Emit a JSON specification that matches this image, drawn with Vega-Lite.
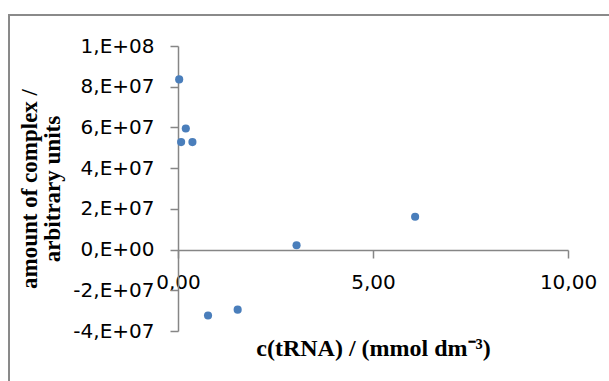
{
  "$schema": "https://vega.github.io/schema/vega-lite/v6.json",
  "width": 390,
  "height": 285,
  "autosize": {"type": "none"},
  "padding": {"left": 178, "top": 46, "right": 41, "bottom": 50},
  "background": "white",
  "config": {"view": {"stroke": null}, "font": "DejaVu Sans"},
  "data": {
    "values": [
      {"c": 0.03, "amount": 83600000},
      {"c": 0.2, "amount": 59500000},
      {"c": 0.08, "amount": 52800000},
      {"c": 0.37, "amount": 52800000},
      {"c": 0.77, "amount": -32400000},
      {"c": 1.53, "amount": -29500000},
      {"c": 3.04, "amount": 2100000},
      {"c": 6.08, "amount": 16100000}
    ]
  },
  "layer": [
    {
      "mark": {"type": "rect", "fill": null, "stroke": "#8a8a8a", "strokeWidth": 1.5, "clip": false},
      "encoding": {
        "x": {"datum": -4.33, "type": "quantitative", "scale": {"domain": [0, 10], "nice": false, "zero": false}},
        "x2": {"datum": 11.5},
        "y": {"datum": 115200000, "type": "quantitative", "scale": {"domain": [-40000000, 100000000], "nice": false, "zero": false}},
        "y2": {"datum": -70000000}
      }
    },
    {
      "mark": {"type": "point", "filled": true, "size": 66, "color": "#4A7EBB", "opacity": 1},
      "encoding": {
        "x": {
          "field": "c",
          "type": "quantitative",
          "scale": {"domain": [0, 10], "nice": false, "zero": false},
          "axis": {
            "title": "c(tRNA) / (mmol dm⁻³)",
            "values": [0, 5, 10],
            "labelExpr": "replace(format(datum.value, '.2f'), '.', ',')",
            "offset": -81,
            "grid": false,
            "domainColor": "#868686",
            "domainWidth": 1.5,
            "tickColor": "#868686",
            "tickWidth": 1.5,
            "tickSize": 8,
            "labelFont": "DejaVu Sans",
            "labelFontSize": 20,
            "labelColor": "black",
            "labelPadding": 14,
            "labelFlush": false,
            "labelOverlap": false,
            "titleFont": "Liberation Serif",
            "titleFontSize": 24,
            "titleFontWeight": "bold",
            "titleColor": "black",
            "titlePadding": 44
          }
        },
        "y": {
          "field": "amount",
          "type": "quantitative",
          "scale": {"domain": [-40000000, 100000000], "nice": false, "zero": false},
          "axis": {
            "title": ["amount of complex /", "arbitrary units"],
            "values": [-40000000, -20000000, 0, 20000000, 40000000, 60000000, 80000000, 100000000],
            "labelExpr": "datum.value == 0 ? '0,E+00' : (datum.value < 0 ? '-' : '') + format(abs(datum.value) / pow(10, floor(log(abs(datum.value)) / LN10 + 1e-9)), '.0f') + ',E+' + (floor(log(abs(datum.value)) / LN10 + 1e-9) < 10 ? '0' : '') + floor(log(abs(datum.value)) / LN10 + 1e-9)",
            "grid": false,
            "domainColor": "#868686",
            "domainWidth": 1.5,
            "tickColor": "#868686",
            "tickWidth": 1.5,
            "tickSize": 8,
            "labelFont": "DejaVu Sans",
            "labelFontSize": 20,
            "labelColor": "black",
            "labelPadding": 16,
            "labelOverlap": false,
            "labelFlush": false,
            "titleFont": "Liberation Serif",
            "titleFontSize": 23,
            "titleFontWeight": "bold",
            "titleColor": "black",
            "titlePadding": 8,
            "titleLineHeight": 23
          }
        }
      }
    }
  ]
}
